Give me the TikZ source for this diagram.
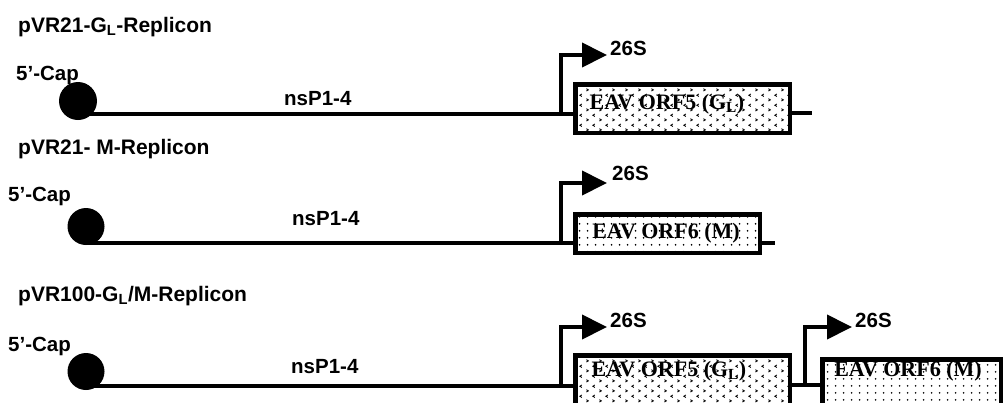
\documentclass[tikz,border=0pt]{standalone}
\usepackage{fontspec}
\setmainfont{Liberation Sans}
\newfontfamily\boxfont{Liberation Serif}
\usetikzlibrary{arrows.meta,patterns.meta}
\tikzdeclarepattern{
  name=chev,
  type=uncolored,
  bottom left={(0pt,0pt)},
  top right={(13pt,10pt)},
  tile size={(13pt,10pt)},
  code={
    \draw[line width=0.9pt] (1.5pt,1pt) -- (3.6pt,2.3pt) -- (1.5pt,3.6pt);
    \draw[line width=0.9pt] (10.5pt,6pt) -- (8.4pt,7.3pt) -- (10.5pt,8.6pt);
  }
}
\tikzdeclarepattern{
  name=sdots,
  type=uncolored,
  bottom left={(0pt,0pt)},
  top right={(8pt,7pt)},
  tile size={(8pt,7pt)},
  code={\fill (4pt,3.5pt) circle (1.05pt);}
}
\tikzset{
  rowtitle/.style={anchor=base west,inner sep=0pt,font=\fontsize{21}{24}\selectfont\bfseries},
  lbl/.style={anchor=base west,inner sep=0pt,font=\fontsize{20.5}{24}\selectfont\bfseries},
  capdot/.style={circle,fill=black,inner sep=0pt},
  rna/.style={line width=4.5pt},
  gene/.style={draw,line width=4.5pt,inner sep=0pt},
  glbox/.style={gene,pattern=chev},
  mbox/.style={gene,pattern=sdots},
  boxtxt/.style={inner sep=0pt,font=\boxfont\fontsize{22}{24}\selectfont\bfseries},
  prom/.style={line width=4pt,line join=miter,-{Triangle[length=25pt,width=24pt]}}
}
\begin{document}
\begin{tikzpicture}[x=1pt,y=-1pt]
\clip (0,0) rectangle (1007,402);
% ---------- row 1 ----------
\node[rowtitle] (t1) at (18,32) {pVR21-G\textsubscript{L}-Replicon};
\node[lbl] (cap1l) at (16,80) {5’-Cap};
\node[lbl] (ns1) at (284,105) {nsP1-4};
\coordinate (l1) at (78,114);
\coordinate (p1) at (561,114);
\coordinate (a1) at (607,55);
\coordinate (e1) at (812,113);
\node[glbox,minimum width=214.5pt,minimum height=48.5pt] (b1) at (682.5,108.5) {};
\draw[rna] (l1) -- (p1) -- (b1.west |- p1);
\draw[rna] (b1.east |- e1) -- (e1);
\draw[prom] (p1) |- (a1);
\node[lbl] (s1) at (610,55) {26S};
\node[boxtxt] (x1) at (667,104) {EAV ORF5 (G\textsubscript{L})};
\node[capdot,minimum size=38pt] (c1) at (78,101) {};
% ---------- row 2 ----------
\node[rowtitle] (t2) at (18,154) {pVR21- M-Replicon};
\node[lbl] (cap2l) at (8,201) {5’-Cap};
\node[lbl] (ns2) at (292,225) {nsP1-4};
\coordinate (l2) at (86,243);
\coordinate (p2) at (561,243);
\coordinate (a2) at (607,183);
\coordinate (e2) at (775,243);
\node[mbox,minimum width=184.5pt,minimum height=38.5pt] (b2) at (667.5,233.5) {};
\draw[rna] (l2) -- (p2) -- (b2.west |- p2);
\draw[rna] (b2.east |- e2) -- (e2);
\draw[prom] (p2) |- (a2);
\node[lbl] (s2) at (612,180) {26S};
\node[boxtxt] (x2) at (666,233) {EAV ORF6 (M)};
\node[capdot,minimum size=37pt] (c2) at (86,226.5) {};
% ---------- row 3 ----------
\node[rowtitle] (t3) at (18,301) {pVR100-G\textsubscript{L}/M-Replicon};
\node[lbl] (cap3l) at (8,351) {5’-Cap};
\node[lbl] (ns3) at (291,373) {nsP1-4};
\coordinate (l3) at (86,386);
\coordinate (p3) at (561,386);
\coordinate (a3) at (607,327);
\node[glbox,minimum width=214.5pt,minimum height=51.5pt] (b3) at (682.5,381) {};
\node[mbox,minimum width=178.5pt,minimum height=47.5pt] (b4) at (911.5,383) {};
\coordinate (p4) at (805,385);
\coordinate (a4) at (852,327);
\draw[rna] (l3) -- (p3) -- (b3.west |- p3);
\draw[rna] (b3.east |- p4) -- (p4) -- (b4.west |- p4);
\draw[prom] (p3) |- (a3);
\draw[prom] (p4) |- (a4);
\node[lbl] (s3) at (610,327) {26S};
\node[lbl] (s4) at (855,327) {26S};
\node[boxtxt] (x3) at (669,371) {EAV ORF5 (G\textsubscript{L})};
\node[boxtxt] (x4) at (908,371) {EAV ORF6 (M)};
\node[capdot,minimum size=37pt] (c3) at (86,371.5) {};
\end{tikzpicture}
\end{document}
